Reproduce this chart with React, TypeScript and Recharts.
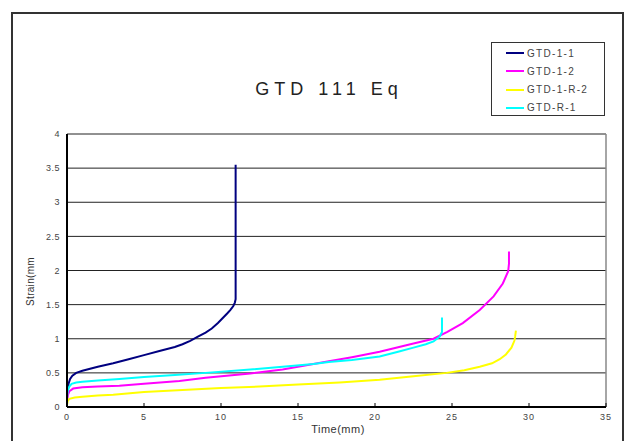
import React from 'react';
import { LineChart, Line, XAxis, YAxis, CartesianGrid, ReferenceLine } from 'recharts';

const seriesNames = ['GTD-1-1', 'GTD-1-2', 'GTD-1-R-2', 'GTD-R-1'];
const seriesColors = ['#000080', '#FF00FF', '#FFFF00', '#00FFFF'];

const xTicks = [0, 5, 10, 15, 20, 25, 30, 35];
const yTicks = [0, 0.5, 1, 1.5, 2, 2.5, 3, 3.5, 4];

const gtd11T = [0, 0.05, 0.1, 0.2, 0.35, 0.6, 1, 1.5, 2, 3, 4, 5, 6, 6.5, 7, 7.5, 8, 8.5, 9, 9.4, 9.8, 10.1, 10.4, 10.6, 10.8, 10.9, 10.95, 10.95];
const gtd11S = [0.12, 0.27, 0.34, 0.41, 0.46, 0.5, 0.53, 0.56, 0.59, 0.64, 0.7, 0.76, 0.82, 0.85, 0.88, 0.92, 0.97, 1.03, 1.09, 1.15, 1.23, 1.3, 1.37, 1.42, 1.48, 1.53, 1.58, 3.55];

const gtd12T = [0, 0.05, 0.15, 0.4, 1, 2, 3.4, 5, 7.3, 9, 11.9, 14, 16, 17, 18.5, 20.3, 22.5, 23.8, 24.7, 25.7, 26.8, 27.7, 28.3, 28.65, 28.7, 28.7];
const gtd12S = [0.08, 0.17, 0.23, 0.27, 0.29, 0.3, 0.31, 0.34, 0.38, 0.43, 0.49, 0.55, 0.63, 0.67, 0.73, 0.81, 0.93, 1.0, 1.1, 1.23, 1.42, 1.62, 1.81, 1.99, 2.1, 2.28];

const gtd1r2T = [0, 0.05, 0.15, 0.5, 1, 2, 3, 5, 7.5, 10, 12.5, 15, 17.7, 20.3, 22.5, 24.65, 25.8, 26.8, 27.6, 28.1, 28.5, 28.86, 29.05, 29.1, 29.15];
const gtd1r2S = [0.03, 0.09, 0.12, 0.14, 0.15, 0.17, 0.18, 0.22, 0.25, 0.28, 0.3, 0.33, 0.36, 0.4, 0.45, 0.5, 0.54, 0.59, 0.64, 0.7, 0.77, 0.87, 0.97, 1.03, 1.12];

const gtdr1T = [0, 0.05, 0.15, 0.3, 0.6, 1, 2, 3.4, 5, 7, 9, 11.9, 14, 16, 17, 18.5, 20.3, 21.5, 22.5, 23.3, 23.8, 24.2, 24.35, 24.35];
const gtdr1S = [0.15, 0.24, 0.3, 0.34, 0.36, 0.37, 0.39, 0.41, 0.44, 0.47, 0.5, 0.55, 0.59, 0.63, 0.66, 0.69, 0.74, 0.81, 0.87, 0.92, 0.96, 1.03, 1.1, 1.31];

const build = (ts: number[], ss: number[]) => ts.map((t, i) => ({ t, s: ss[i] }));

const series = [
  build(gtd11T, gtd11S),
  build(gtd12T, gtd12S),
  build(gtd1r2T, gtd1r2S),
  build(gtdr1T, gtdr1S),
];

const tickFont = { fontFamily: 'Liberation Sans, Arial, sans-serif', fontSize: 9, fill: '#444', letterSpacing: 1 };

export default function App() {
  return (
    <div style={{ position: 'absolute', left: 0, top: 0, width: 629, height: 441, background: '#fff', overflow: 'hidden' }}>
      <div style={{ position: 'absolute', left: 11, top: 12, width: 613, height: 440, borderLeft: '2px solid #333', borderTop: '2px solid #333', borderRight: '2px solid #333', boxSizing: 'border-box' }} />
      <LineChart width={629} height={441} margin={{ top: 134, right: 23, bottom: 0, left: 0 }} style={{ position: 'absolute', left: 0, top: 0 }}>
        <CartesianGrid vertical={false} stroke="#222" strokeWidth={1} />
        <XAxis
          dataKey="t"
          type="number"
          domain={[0, 35]}
          ticks={xTicks}
          height={34}
          allowDuplicatedCategory={false}
          axisLine={{ stroke: '#000', strokeWidth: 2 }}
          tickLine={{ stroke: '#000' }}
          tickSize={-4}
          tickMargin={11}
          tick={tickFont}
          interval={0}
        />
        <YAxis
          type="number"
          domain={[0, 4]}
          ticks={yTicks}
          width={67}
          axisLine={{ stroke: '#000', strokeWidth: 2 }}
          tickLine={false}
          tickSize={5}
          tickMargin={2}
          tick={{ ...tickFont, letterSpacing: 0.5 }}
          interval={0}
        />
        <ReferenceLine x={35} stroke="#888" strokeWidth={1.5} />
        {series.map((d, i) => (
          <Line
            key={seriesNames[i]}
            data={d}
            dataKey="s"
            name={seriesNames[i]}
            type="linear"
            stroke={seriesColors[i]}
            strokeWidth={2}
            dot={false}
            activeDot={false}
            isAnimationActive={false}
          />
        ))}
      </LineChart>
      <div style={{ position: 'absolute', left: 176, top: 79, width: 306, textAlign: 'center', fontFamily: 'Liberation Sans, Arial, sans-serif', fontSize: 18, letterSpacing: 5, color: '#222' }}>
        GTD 111 Eq
      </div>
      <div style={{ position: 'absolute', left: 288, top: 423, width: 100, textAlign: 'center', fontFamily: 'Liberation Sans, Arial, sans-serif', fontSize: 11, letterSpacing: 0.5, color: '#333' }}>
        Time(mm)
      </div>
      <div style={{ position: 'absolute', left: -20, top: 276, width: 100, textAlign: 'center', transform: 'rotate(-90deg)', fontFamily: 'Liberation Sans, Arial, sans-serif', fontSize: 10, letterSpacing: 0.3, color: '#333' }}>
        Strain(mm
      </div>
      <div style={{ position: 'absolute', left: 491, top: 42, width: 114, height: 74, border: '1.5px solid #333', boxSizing: 'border-box', background: '#fff' }}>
        {seriesNames.map((n, i) => (
          <div key={n} style={{ position: 'absolute', left: 14, top: 2 + i * 18.3, height: 16, display: 'flex', alignItems: 'center' }}>
            <div style={{ width: 18, height: 2, background: seriesColors[i], marginRight: 3 }} />
            <span style={{ fontFamily: 'Liberation Sans, Arial, sans-serif', fontSize: 10, letterSpacing: 1.3, color: '#444' }}>{n}</span>
          </div>
        ))}
      </div>
    </div>
  );
}
